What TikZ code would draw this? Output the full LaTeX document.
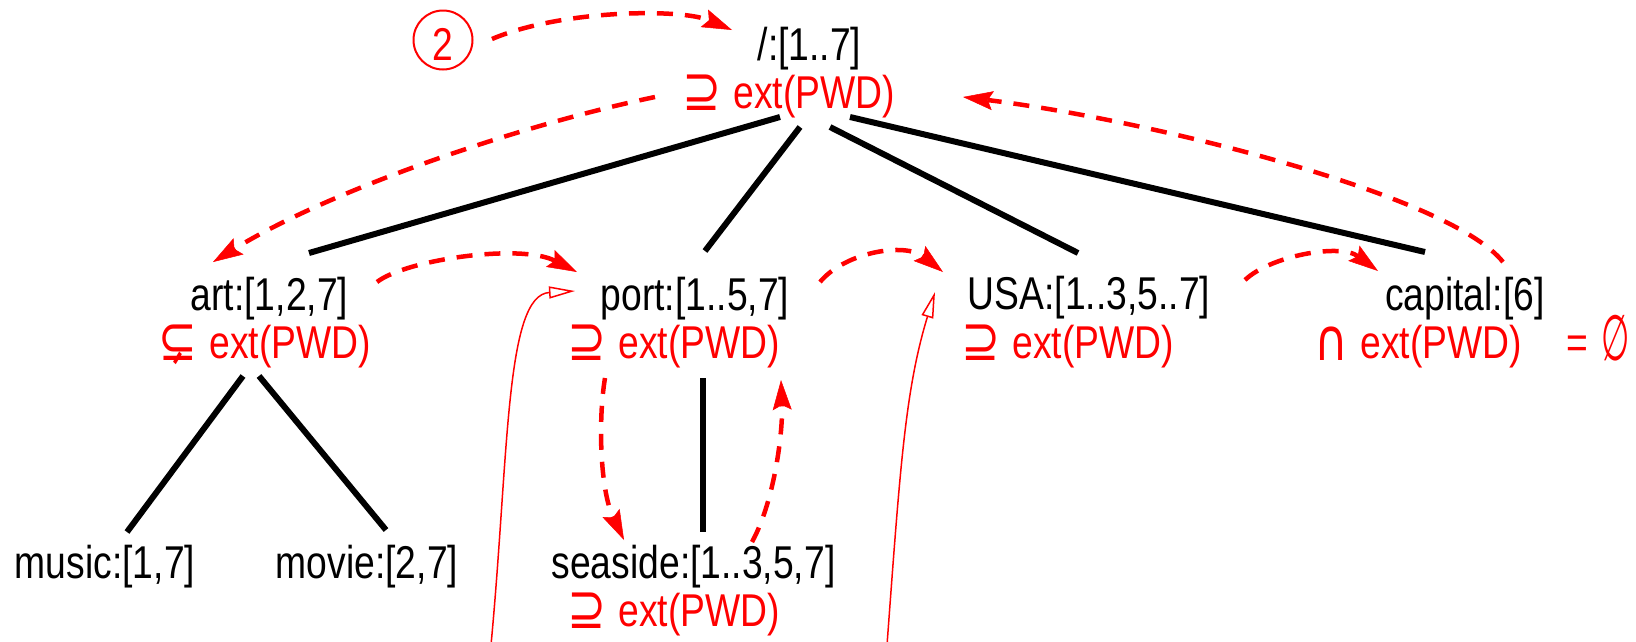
\documentclass[tikz,border=0pt]{standalone}
\usepackage{fontspec}
\usepackage{graphicx}
\setmainfont{Liberation Sans}[FakeStretch=0.81]
\newfontfamily\symfont{DejaVu Sans}[FakeStretch=0.8]
\usetikzlibrary{arrows.meta}
\newcommand{\setsym}[1]{\raisebox{-2pt}{\symfont\fontsize{58}{60}\selectfont #1}}
\newcommand{\extpwd}[1]{\setsym{#1}\hspace{12pt}ext(PWD)}
\tikzset{
  lbl/.style={anchor=base},
  extn/.style={anchor=base east, text=red},
  treeline/.style={line width=6pt},
  walk/.style={red, line width=4.5pt, dash pattern=on 16pt off 12pt,
    -{Stealth[length=30pt,width=19pt,inset=5pt,line width=0.5pt]}},
  jump/.style={red, line width=1.5pt, -{Triangle[open,length=26pt,width=12pt]}},
}
\begin{document}
\begin{tikzpicture}[x=1pt,y=-1pt,every node/.style={inner sep=0pt,font=\fontsize{46}{52}\selectfont}]
\useasboundingbox (0,0) rectangle (1636,641);
% tree labels
\node[lbl] (root) at (809.5,60) {/:[1..7]};
\node[extn] (rootx) at (895,108) {\extpwd{⊇}};
\node[lbl] (art) at (269.5,310) {art:[1,2,7]};
\node[extn] (artx) at (371,358) {\extpwd{⊊}};
\node[lbl] (port) at (695,310) {port:[1..5,7]};
\node[extn] (portx) at (780,358) {\extpwd{⊇}};
\node[lbl] (usa) at (1089,309) {USA:[1..3,5..7]};
\node[extn] (usax) at (1174,358) {\extpwd{⊇}};
\node[lbl] (capital) at (1465,310) {capital:[6]};
\node[extn] (capitalx) at (1522,358) {\extpwd{∩}};
\node[anchor=base west, text=red] (capeq) at (1566,358) {=\hspace{14pt}\setsym{\scalebox{0.7}[1.1]{∅}}};
\node[lbl] (music) at (105,578) {music:[1,7]};
\node[lbl] (movie) at (367,578) {movie:[2,7]};
\node[lbl] (seaside) at (693.5,578) {seaside:[1..3,5,7]};
\node[extn] (seasidex) at (780,626) {\extpwd{⊇}};
\node[draw=red, line width=2pt, circle, minimum size=59pt, text=red,
  text height=40pt, text depth=0pt] (c2) at (443,40) {2};
% free ends at the bottom
\coordinate (inl) at (491,645);
\coordinate (inu) at (887,645);
% tree edges
\draw[treeline] ([shift={(-115,9)}]rootx.base east) -- ([shift={(39.5,-57)}]art.base);
\draw[treeline] ([shift={(-95,19)}]rootx.base east) -- ([shift={(10,-59)}]port.base);
\draw[treeline] ([shift={(-65,19)}]rootx.base east) -- ([shift={(-11,-56)}]usa.base);
\draw[treeline] ([shift={(-45,9)}]rootx.base east) -- ([shift={(-40,-58)}]capital.base);
\draw[treeline] ([shift={(-128,18)}]artx.base east) -- ([shift={(22,-46)}]music.base);
\draw[treeline] ([shift={(-112,18)}]artx.base east) -- ([shift={(19,-48)}]movie.base);
\draw[treeline] ([shift={(-77,20)}]portx.base east) -- ([shift={(9.5,-46)}]seaside.base);
% traversal
\draw[walk] ([shift={(49,-1)}]c2.center) .. controls +(68,-29) and +(-52,-22) .. ([shift={(-77.5,-30)}]root.base);
\draw[walk] ([shift={(-240,-11)}]rootx.base east) .. controls +(-135,28) and +(117,-72) .. ([shift={(-56.5,-48)}]art.base);
\draw[walk] ([shift={(107.5,-28)}]art.base) .. controls +(28,-22) and +(-57,-29) .. ([shift={(-118,-38)}]port.base);
\draw[walk] ([shift={(125,-28)}]port.base) .. controls +(25,-30) and +(-38,-30) .. ([shift={(-146,-37)}]usa.base);
\draw[walk] ([shift={(156,-29)}]usa.base) .. controls +(25,-24) and +(-38,-28) .. ([shift={(-87,-39)}]capital.base);
\draw[walk] ([shift={(38,-48)}]capital.base) .. controls +(-53,-67) and +(187,23) .. ([shift={(68,-11)}]rootx.base east);
\draw[walk] ([shift={(-175,20)}]portx.base east) .. controls +(-7,42) and +(-24,-50) .. ([shift={(-69.5,-38)}]seaside.base);
\draw[walk] ([shift={(58.5,-36)}]seaside.base) .. controls +(23,-42) and +(2,50) .. ([shift={(1,22)}]portx.base east);
% links from below
\draw[jump] (inl) .. controls +(18,-191) and +(-70,4) .. ([shift={(-120,-19)}]port.base);
\draw[jump] (inu) .. controls +(13,-175) and +(-30,98) .. ([shift={(-154,-17)}]usa.base);
\end{tikzpicture}
\end{document}
